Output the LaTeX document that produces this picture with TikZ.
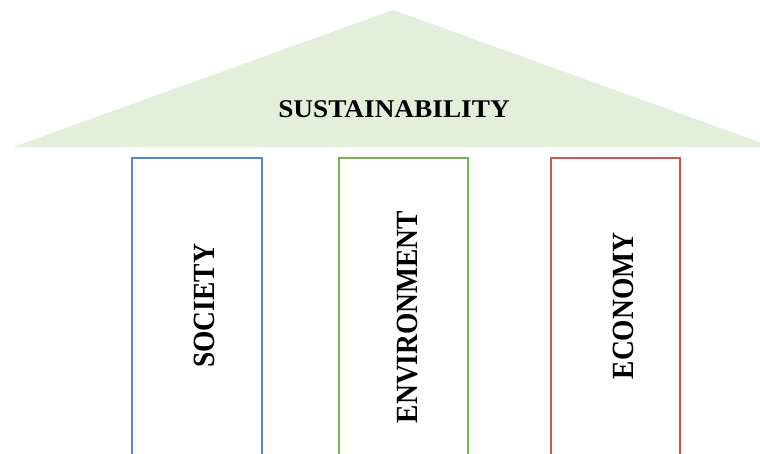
\documentclass[tikz,border=0pt]{standalone}
\usepackage{fontspec}
\setmainfont{Liberation Serif}
\definecolor{roofgreen}{HTML}{E2EFDA}
\definecolor{socblue}{HTML}{5587CC}
\definecolor{envgreen}{HTML}{77B555}
\definecolor{ecored}{HTML}{D05656}
\begin{document}
\begin{tikzpicture}[x=1pt, y=-1pt,
    pillar/.style={line width=2pt},
    roofword/.style={font=\bfseries\fontsize{25.5}{28}\selectfont, inner sep=0pt, xscale=1.07},
    pillarword/.style={font=\bfseries\fontsize{27.5}{30}\selectfont, inner sep=0pt, rotate=90, yscale=1.12}]
    \useasboundingbox (0,0) rectangle (760,453);
    \clip (0,0) rectangle (760,453);
    % roof
    \fill [roofgreen] (13,147) -- (393,10) -- (773,147) -- cycle;
    \node[roofword] (sustain) at (394,109.5) {SUSTAINABILITY};
    % pillars
    \draw [pillar, socblue] (132,460) -- (132,158) -- (262,158) -- (262,460);
    \draw [pillar, envgreen] (339,460) -- (339,158) -- (468,158) -- (468,460);
    \draw [pillar, ecored] (551,460) -- (551,158) -- (680,158) -- (680,460);
    \node[pillarword] (society) at (204.5,306) {SOCIETY};
    \node[pillarword] (environ) at (407.5,317) {ENVIRONMENT};
    \node[pillarword] (economy) at (623,306) {ECONOMY};
\end{tikzpicture}
\end{document}
